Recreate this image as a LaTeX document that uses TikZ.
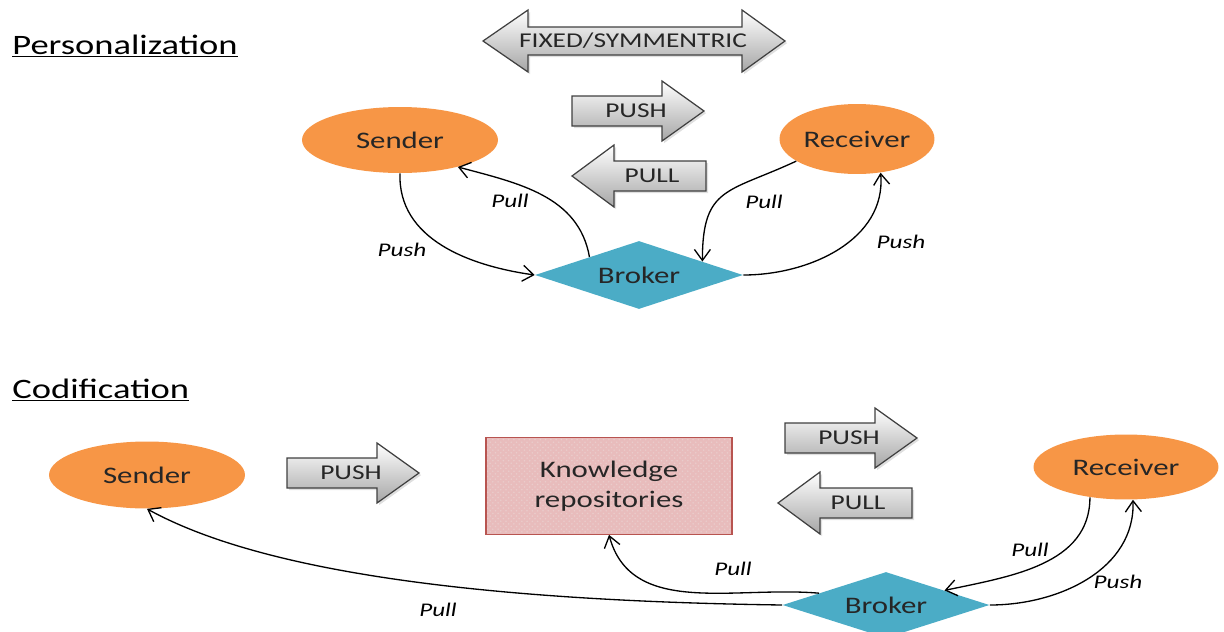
\documentclass[tikz,border=0pt]{standalone}
\usepackage{fontspec}
\setmainfont[FakeStretch=1.3]{Carlito}
\usepackage{tikz}
\usetikzlibrary{shapes.geometric,arrows.meta,patterns,shadows}
\definecolor{nodeorange}{HTML}{F79646}
\definecolor{brokerblue}{HTML}{4BACC6}
\definecolor{repofill}{HTML}{E8BCBC}
\definecolor{repoline}{HTML}{B85450}
\tikzset{
  blockarrow/.style={draw=black!75, line width=0.7pt, top color=white, bottom color=black!35,
    drop shadow={opacity=0.25, shadow xshift=1.2pt, shadow yshift=-1.2pt}},
  arrowtext/.style={font=\fontsize{12}{13}\selectfont, text=black!85},
  actor/.style={ellipse, fill=nodeorange, inner sep=0pt, font=\fontsize{13.5}{15}\selectfont, text=black!85},
  broker/.style={diamond, fill=brokerblue, inner sep=0pt, aspect=3, font=\fontsize{13.5}{15}\selectfont, text=black!85},
  flow/.style={line width=0.75pt, -{Straight Barb[length=2.2mm, width=3.2mm]}},
  lbl/.style={font=\fontsize{11}{12}\selectfont\itshape},
  title/.style={anchor=base west, inner sep=0pt, font=\fontsize{16}{17}\selectfont}
}
% block arrow pointing right: (left end, centre y){name}{text}
\def\rblock(#1,#2)#3#4{\draw[blockarrow] (#1,#2-15) -- (#1+90,#2-15) -- (#1+90,#2-30) -- (#1+132,#2)
  -- (#1+90,#2+30) -- (#1+90,#2+15) -- (#1,#2+15) -- cycle;
  \node[arrowtext] (#3) at (#1+64,#2) {#4};}
% block arrow pointing left: (tip, centre y){name}{text}
\def\lblock(#1,#2)#3#4{\draw[blockarrow] (#1,#2) -- (#1+42,#2-31) -- (#1+42,#2-15) -- (#1+134,#2-15)
  -- (#1+134,#2+15) -- (#1+42,#2+15) -- (#1+42,#2+31) -- cycle;
  \node[arrowtext] (#3) at (#1+80,#2) {#4};}

\begin{document}
\begin{tikzpicture}[x=0.02cm, y=-0.02cm]
\useasboundingbox (0,0) rectangle (1224,632);

%%%%% PERSONALIZATION %%%%%
\node[title] (perso) at (12,54) {\underline{Personalization}};

\draw[blockarrow] (483,41) -- (528,10) -- (528,27) -- (742,27) -- (742,10) -- (785,41)
  -- (742,72) -- (742,55) -- (528,55) -- (528,72) -- cycle;
\node[arrowtext] (fixed) at (633,41) {FIXED/SYMMENTRIC};

\rblock(572,111){pushA}{PUSH}
\lblock(572,176){pullA}{PULL}

\node[actor, minimum width=3.92cm, minimum height=1.32cm] (sender1) at (400,140) {Sender};
\node[actor, minimum width=3.1cm, minimum height=1.4cm] (receiver1) at (857,139) {Receiver};
\node[broker, minimum width=4.16cm, minimum height=1.36cm] (broker1) at (639,275) {Broker};

\draw[flow] (sender1.south) to[out=-92, in=172] (broker1.west);
\draw[flow] (broker1.160) to[out=100, in=-15] (sender1.-25);
\draw[flow] (receiver1.-160) to[out=-155, in=90, looseness=1.4] (broker1.12);
\draw[flow] (broker1.east) to[out=0, in=-85] (receiver1.-55);

\node[lbl] (pushS1) at (402,250) {Push};
\node[lbl] (pullS1) at (510,201) {Pull};
\node[lbl] (pullR1) at (764,202) {Pull};
\node[lbl] (pushR1) at (901,242) {Push};

%%%%% CODIFICATION %%%%%
\node[title] (codif) at (12,398) {\underline{Codification}};

\node[actor, minimum width=3.92cm, minimum height=1.34cm] (sender2) at (147,475) {Sender};
\node[actor, minimum width=3.7cm, minimum height=1.3cm] (receiver2) at (1126,467) {Receiver};
\node[broker, minimum width=4.14cm, minimum height=1.32cm] (broker2) at (886,605) {Broker};

\node[fill=repofill, minimum width=4.92cm, minimum height=1.94cm,
  align=center, font=\fontsize{13.5}{17}\selectfont, text=black!85,
  postaction={pattern=crosshatch dots, pattern color=repoline!30},
  postaction={draw=repoline, line width=0.7pt}] (repo) at (609,486)
  {Knowledge\\repositories};

\rblock(287,473){pushB}{PUSH}
\rblock(785,438){pushC}{PUSH}
\lblock(778,503){pullB}{PULL}

\draw[flow] (receiver2.-140) to[out=-90, in=12] (broker2.14);
\draw[flow] (broker2.east) to[out=0, in=-88] (receiver2.-78);
\draw[flow] (broker2.170) to[out=175, in=-75] (repo.south);
\draw[flow] (broker2.west) .. controls (420,600) and (240,560) .. (sender2.south);

\node[lbl] (pullR2) at (1030,550) {Pull};
\node[lbl] (pushR2) at (1118,582) {Push};
\node[lbl] (pullK) at (733,569) {Pull};
\node[lbl] (pullS2) at (438,610) {Pull};
\end{tikzpicture}
\end{document}
